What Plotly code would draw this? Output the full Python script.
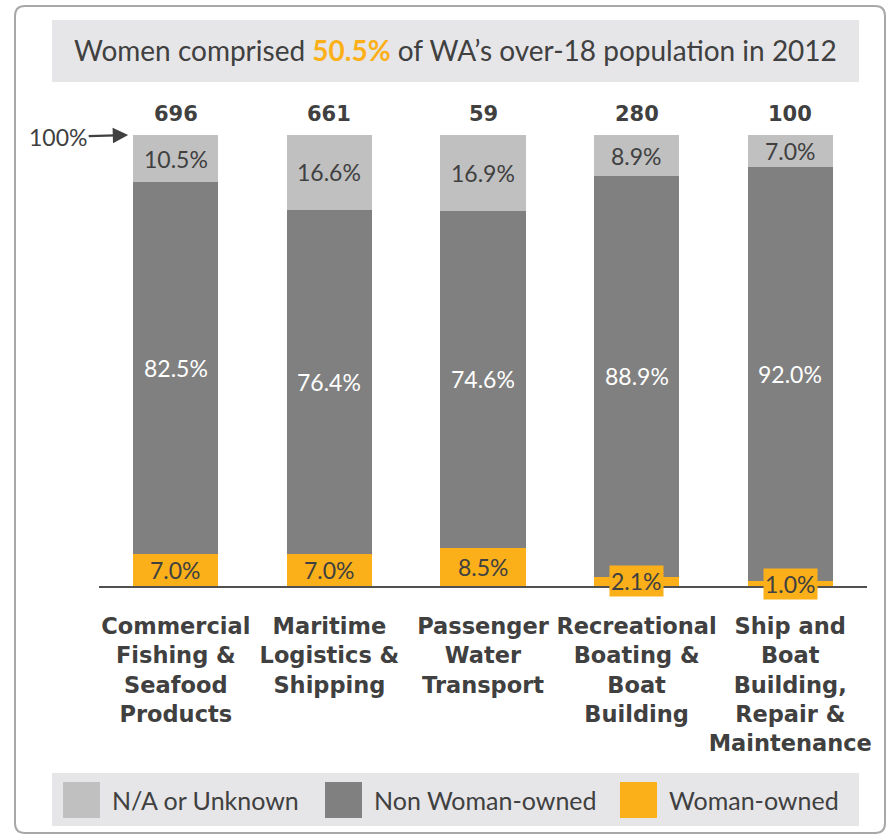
import plotly.graph_objects as go

categories = [
    "Commercial<br>Fishing &<br>Seafood<br>Products",
    "Maritime<br>Logistics &<br>Shipping",
    "Passenger<br>Water<br>Transport",
    "Recreational<br>Boating &<br>Boat<br>Building",
    "Ship and<br>Boat<br>Building,<br>Repair &<br>Maintenance",
]
totals = [696, 661, 59, 280, 100]
woman_owned = [7.0, 7.0, 8.5, 2.1, 1.0]
non_woman_owned = [82.5, 76.4, 74.6, 88.9, 92.0]
na_unknown = [10.5, 16.6, 16.9, 8.9, 7.0]

ORANGE = "#FBB01A"
DARK = "#808080"
LIGHT = "#C0C0C0"
TEXT = "#404040"
BOX = "#E6E6E8"
FONT = "Lato"
BOLD = "DejaVu Sans"

# plot area in pixels: x 99..867, y 135..586
L, R, T, B = 99, 867, 135, 586


def px(x):
    return (x - L) / (R - L)


def py(y):
    return (B - y) / (B - T)


x = list(range(len(categories)))

fig = go.Figure()
fig.add_trace(go.Bar(x=x, y=woman_owned, name="Woman-owned", marker=dict(color=ORANGE, line_width=0)))
fig.add_trace(go.Bar(x=x, y=non_woman_owned, name="Non Woman-owned", marker=dict(color=DARK, line_width=0)))
fig.add_trace(go.Bar(x=x, y=na_unknown, name="N/A or Unknown", marker=dict(color=LIGHT, line_width=0)))

# segment labels
for i in x:
    w, n, u = woman_owned[i], non_woman_owned[i], na_unknown[i]
    small = w < 5
    fig.add_annotation(x=i, y=w / 2, text=f"{w:.1f}%", yanchor="middle",
                       showarrow=False, font=dict(size=23, color=TEXT, family=FONT),
                       bgcolor=ORANGE if small else None, borderpad=1)
    fig.add_annotation(x=i, y=w + n / 2, text=f"{n:.1f}%", showarrow=False, yanchor="middle",
                       font=dict(size=23, color="white", family=FONT))
    fig.add_annotation(x=i, y=w + n + u / 2, text=f"{u:.1f}%", showarrow=False, yanchor="middle",
                       font=dict(size=23, color=TEXT, family=FONT))
    fig.add_annotation(x=i, y=100, yanchor="bottom", yshift=7, text=f"<b>{totals[i]}</b>",
                       showarrow=False, font=dict(size=21, color=TEXT, family=BOLD))

# 100% arrow
fig.add_annotation(x=-0.31, y=100, text="100%", showarrow=True, ax=-70, ay=2,
                   arrowhead=2, arrowsize=1.4, arrowwidth=2.2, arrowcolor=TEXT,
                   font=dict(size=23, color=TEXT, family=FONT))

# title box
fig.add_shape(type="rect", xref="paper", yref="paper", x0=px(52), x1=px(859), y0=py(82), y1=py(20),
              fillcolor=BOX, line_width=0, layer="below")
fig.add_annotation(xref="paper", yref="paper", x=px(455), y=py(50), xanchor="center", yanchor="middle",
                   showarrow=False,
                   text=f"Women comprised <b><span style='color:{ORANGE}'>50.5%</span></b> of WA’s over-18 population in 2012",
                   font=dict(size=28, color=TEXT, family=FONT))

# legend box (drawn by hand to get the big square swatches)
fig.add_shape(type="rect", xref="paper", yref="paper", x0=px(52), x1=px(859), y0=py(826), y1=py(773),
              fillcolor=BOX, line_width=0, layer="below")
legend_items = [("N/A or Unknown", LIGHT, 63), ("Non Woman-owned", DARK, 325), ("Woman-owned", ORANGE, 620)]
for label, color, lx in legend_items:
    fig.add_shape(type="rect", xref="paper", yref="paper", x0=px(lx), x1=px(lx + 37),
                  y0=py(818), y1=py(782), fillcolor=color, line_width=0)
    fig.add_annotation(xref="paper", yref="paper", x=px(lx + 47), y=py(800), xanchor="left",
                       yanchor="middle", text=label, showarrow=False,
                       font=dict(size=25, color=TEXT, family=FONT))

# outer frame with rounded corners
x0, x1, y0, y1, r = 15, 885, 6, 833, 10
path = (f"M {px(x0 + r)},{py(y0)} L {px(x1 - r)},{py(y0)} Q {px(x1)},{py(y0)} {px(x1)},{py(y0 + r)} "
        f"L {px(x1)},{py(y1 - r)} Q {px(x1)},{py(y1)} {px(x1 - r)},{py(y1)} "
        f"L {px(x0 + r)},{py(y1)} Q {px(x0)},{py(y1)} {px(x0)},{py(y1 - r)} "
        f"L {px(x0)},{py(y0 + r)} Q {px(x0)},{py(y0)} {px(x0 + r)},{py(y0)} Z")
fig.add_shape(type="path", xref="paper", yref="paper", path=path,
              line=dict(color="#A8A8A8", width=2), fillcolor="rgba(0,0,0,0)")

fig.update_layout(
    width=888, height=836,
    margin=dict(l=L, r=888 - R, t=T, b=836 - B),
    plot_bgcolor="white", paper_bgcolor="white",
    barmode="stack", bargap=0.446,
    font=dict(family=FONT, color=TEXT),
    showlegend=False,
    xaxis=dict(
        tickmode="array", tickvals=x, ticktext=[f"<b>{c}</b>" for c in categories],
        range=[-0.5, 4.5], showline=True, linecolor="#505050", linewidth=2,
        ticks="", tickangle=0, ticklabelstandoff=19,
        tickfont=dict(size=22.5, color=TEXT, family=BOLD), showgrid=False,
        automargin=False, fixedrange=True,
    ),
    yaxis=dict(range=[0, 100], visible=False, showgrid=False, automargin=False, fixedrange=True),
)

fig.write_html("out.html", config={"displayModeBar": False},
               post_script="document.body.style.margin='0';")
